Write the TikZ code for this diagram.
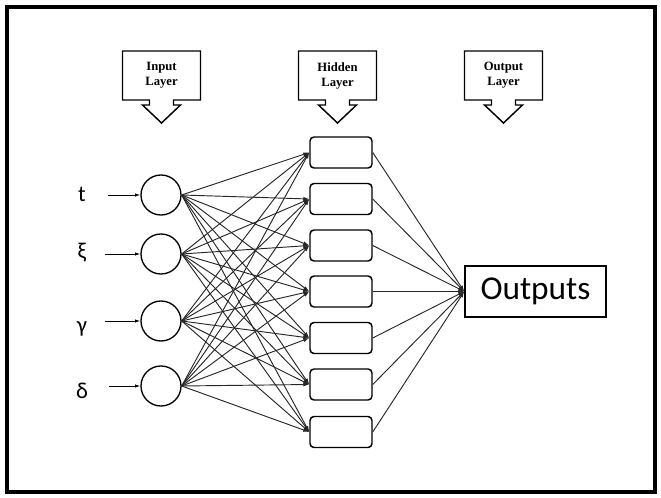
\documentclass[tikz,border=0pt]{standalone}
\usepackage{fontspec}
\setmainfont{Carlito}
\newfontfamily\layerfont{Liberation Serif}
\usepackage{tikz}
\usetikzlibrary{arrows.meta}
\tikzset{>={Latex[length=4.5pt,width=3pt]}}
\tikzset{neuron/.style={shape=circle, draw, line width=1pt, minimum size=30pt, inner sep=0pt},
    hidbox/.style={shape=rectangle, draw, rounded corners=3pt, line width=1.1pt, minimum width=46.5pt, minimum height=23.25pt},
    outbox/.style={shape=rectangle, draw, line width=1.1pt, minimum width=105.75pt, minimum height=38.25pt, font=\fontsize{25}{29}\selectfont},
    invar/.style={minimum width=20pt, inner sep=0pt, font=\fontsize{17}{20}\selectfont},
    layertext/.style={align=center, font=\layerfont\bfseries\fontsize{9.5}{11.25}\selectfont},
    link/.style={->, line width=0.7pt, black!85},
    feed/.style={-{Latex[length=4pt,width=2.5pt]}, line width=0.6pt}}

\begin{document}
\begin{tikzpicture}[x=0.75pt, y=0.75pt]
    \useasboundingbox (0,0) rectangle (661,497);
    \draw[line width=3pt] (7,5) rectangle (655,490);

    % layer callouts
    \foreach \cx/\nm/\txt in {161.5/inlayer/Input, 337.5/hidlayer/Hidden, 503.5/outlayer/Output} {
        \node[layertext] (\nm) at (\cx,421.5) {\txt\\Layer};
        \draw[line width=1.1pt, shift={(\cx,0)}] (-39,446) -- (39,446) -- (39,397) -- (12,397) -- (12,392) -- (19,392)
            -- (0,374) -- (-19,392) -- (-12,392) -- (-12,397) -- (-39,397) -- cycle;
    }

    % input layer
    \node[neuron] (x1) at (161,302) {};
    \node[neuron] (x2) at (161,243) {};
    \node[neuron] (x3) at (161,176) {};
    \node[neuron] (x4) at (161,111) {};
    \node[invar] (vt) at (82,303) {t};
    \node[invar] (vxi) at (82,244) {ξ};
    \node[invar] (vgamma) at (82,168) {γ};
    \node[invar] (vdelta) at (82,106) {δ};
    \draw[feed, shorten <=9pt] (vt.east |- x1) -- (x1);
    \draw[feed, shorten <=7pt] (vxi.east |- x2) -- (x2);
    \draw[feed, shorten <=7pt] (vgamma.east |- x3) -- (x3);
    \draw[feed, shorten <=10pt] (vdelta.east |- x4) -- (x4);

    % hidden layer
    \node[hidbox] (h1) at (341,344.5) {};
    \node[hidbox] (h2) at (341,298) {};
    \node[hidbox] (h3) at (341,251.5) {};
    \node[hidbox] (h4) at (341,205.5) {};
    \node[hidbox] (h5) at (341,159) {};
    \node[hidbox] (h6) at (341,112.5) {};
    \node[hidbox] (h7) at (341,65) {};

    % output
    \node[outbox] (out) at (535.5,205.5) {Outputs};

    \foreach \i in {1,...,4}
        \foreach \j in {1,...,7}
            \draw[link] (x\i.east) -- (h\j.west);
    \foreach \j in {1,...,7}
        \draw[link] (h\j.east) -- (out.west);

\end{tikzpicture}
\end{document}
